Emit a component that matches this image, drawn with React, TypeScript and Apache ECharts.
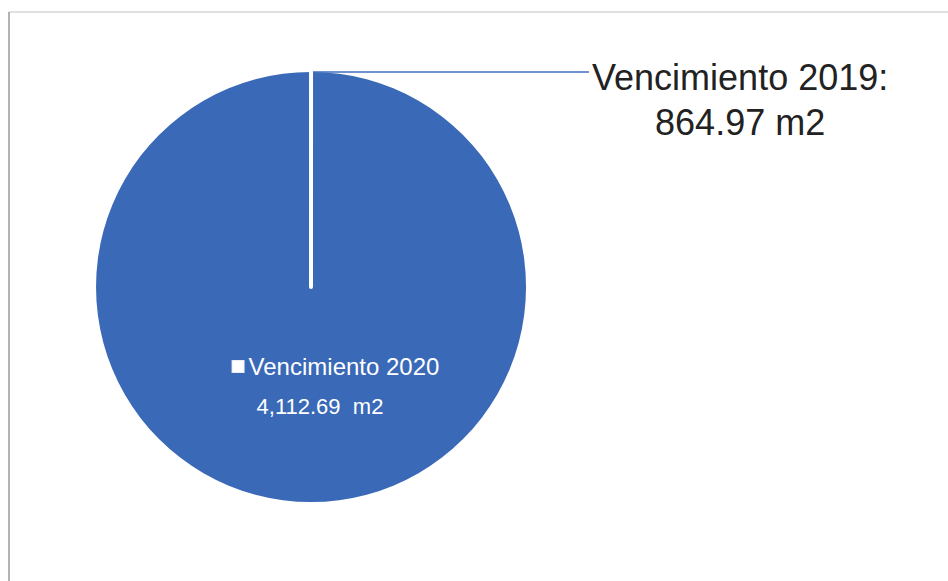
import React, { useEffect, useRef } from "react";
import * as echarts from "echarts";

// Data
const categories = ["Vencimiento 2019", "Vencimiento 2020"];
const areaLabels = ["864.97 m2", "4,112.69  m2"];
// Slice sizes as drawn in the reference: the 2019 slice has no visible width
// (it shows only as a white radial line), the 2020 slice fills the circle.
const sliceValues = [0, 4112.69];

const BLUE = "#3a69b7";
const FONT = "'Liberation Sans', Arial, sans-serif";

export default function App() {
  const ref = useRef<HTMLDivElement>(null);

  useEffect(() => {
    document.body.style.margin = "0";
    if (!ref.current) return;
    const chart = echarts.init(ref.current, undefined, { renderer: "svg" });

    const option = {
      animation: false,
      backgroundColor: "#ffffff",
      graphic: [
        {
          type: "line",
          shape: { x1: 9, y1: 12, x2: 948, y2: 12 },
          style: { stroke: "#d6d6d6", lineWidth: 1.5 },
          silent: true,
        },
        {
          type: "line",
          shape: { x1: 9, y1: 12, x2: 9, y2: 581 },
          style: { stroke: "#9a9a9a", lineWidth: 1.5 },
          silent: true,
        },
      ],
      series: [
        {
          type: "pie",
          center: [311, 287],
          radius: [0, 215],
          startAngle: 89.99,
          clockwise: true,
          avoidLabelOverlap: false,
          silent: true,
          data: [
            {
              name: categories[1],
              value: sliceValues[1],
              itemStyle: { color: BLUE },
              label: {
                show: true,
                position: "inner",
                fontFamily: FONT,
                formatter: () =>
                  `{k|}{t|${categories[1]}}\n{v|${areaLabels[1]}}`,
                rich: {
                  k: {
                    width: 11,
                    height: 11,
                    backgroundColor: "#ffffff",
                    borderColor: "#e6ecf5",
                    borderWidth: 1,
                    align: "left",
                  },
                  t: {
                    fontSize: 24,
                    lineHeight: 40,
                    color: "#ffffff",
                    fontFamily: FONT,
                    padding: [0, 0, 0, 5],
                    align: "left",
                  },
                  v: {
                    fontSize: 22,
                    lineHeight: 40,
                    color: "#ffffff",
                    fontFamily: FONT,
                    padding: [0, 0, 0, 24],
                    align: "left",
                  },
                },
              },
              labelLine: { show: false },
            },
            {
              name: categories[0],
              value: sliceValues[0],
              itemStyle: { color: BLUE, borderColor: "#ffffff", borderWidth: 4 },
              label: {
                show: true,
                position: "outside",
                distanceToLabelLine: 3,
                padding: [55, 0, 0, 0],
                formatter: () => `{a|${categories[0]}:}\n{a|${areaLabels[0]}}`,
                rich: {
                  a: {
                    fontSize: 36,
                    lineHeight: 45,
                    color: "#222222",
                    fontFamily: FONT,
                    align: "center",
                  },
                },
              },
              labelLine: {
                show: true,
                length: 0,
                length2: 278,
                smooth: false,
                lineStyle: { color: "#3f6fc0", width: 1.5 },
              },
            },
          ],
          labelLayout: (p: any) =>
            p.dataIndex === 0 ? { dx: 25, dy: -11 } : undefined,
        },
      ],
    };

    chart.setOption(option as any);
    return () => chart.dispose();
  }, []);

  return <div ref={ref} style={{ width: 948, height: 581 }} />;
}
